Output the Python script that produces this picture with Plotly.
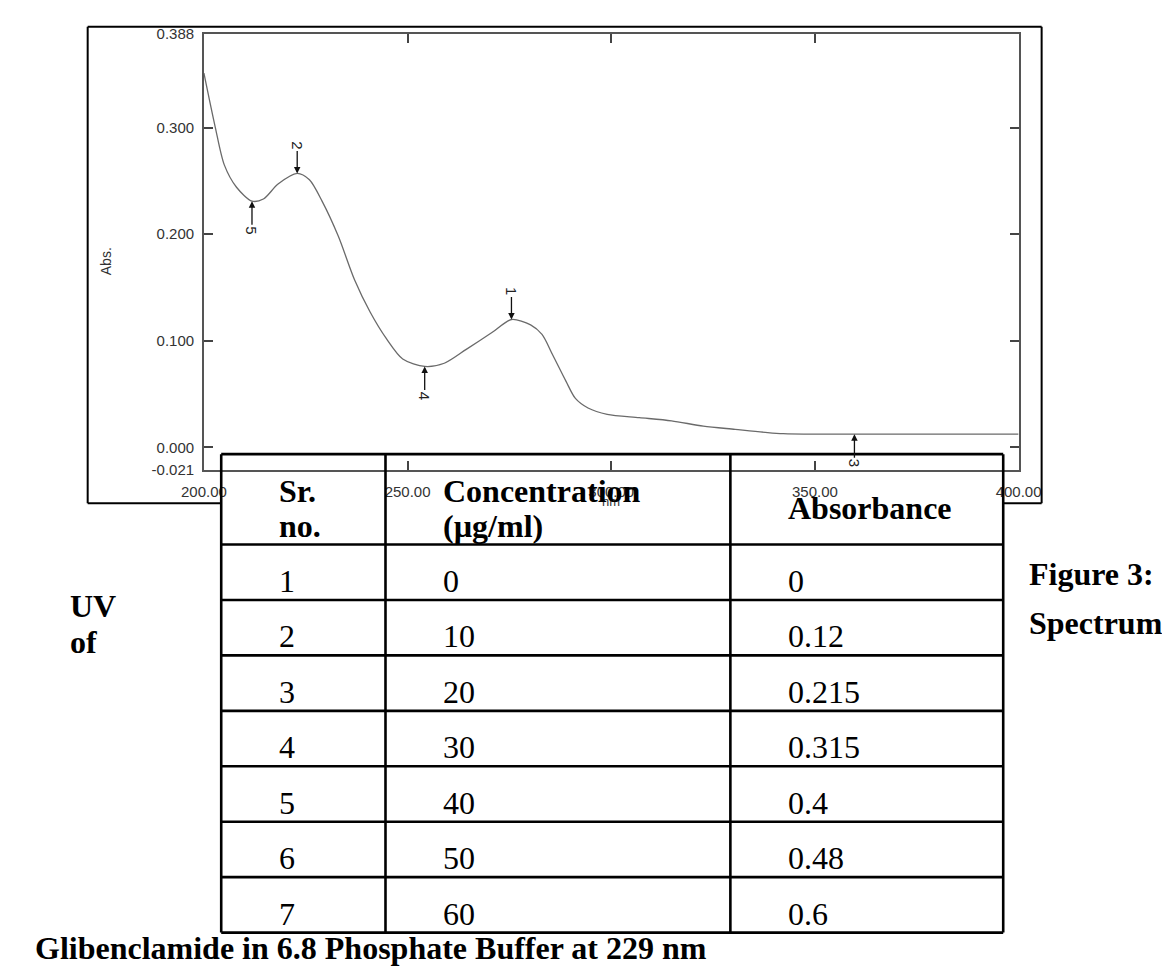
import plotly.graph_objects as go

W, H = 1170, 966

# ---------------- spectrum data ----------------
wavelength = [200.0, 202.8, 205.0, 208.0, 211.8, 214.6, 218.2, 222.9, 225.9, 229.0,
              233.0, 237.0, 240.8, 244.8, 248.8, 254.2, 259.0, 264.4, 270.8, 275.5,
              280.2, 283.0, 285.6, 288.9, 291.2, 294.3, 299.0, 306.9, 314.8, 322.6,
              330.4, 338.4, 342.2, 350.0, 360.0, 370.0, 380.0, 390.0, 400.0]
absorb = [0.351, 0.300, 0.265, 0.244, 0.231, 0.233, 0.247, 0.257, 0.251, 0.231,
          0.198, 0.157, 0.127, 0.102, 0.083, 0.076, 0.079, 0.092, 0.108, 0.120,
          0.115, 0.106, 0.087, 0.062, 0.046, 0.037, 0.031, 0.028, 0.025, 0.020,
          0.017, 0.014, 0.013, 0.0125, 0.0125, 0.0125, 0.0125, 0.0125, 0.0125]

# peak / valley markers: label, wavelength, absorbance, label above?
peak_labels = ["1", "2", "3", "4", "5"]
peak_wl = [275.5, 222.9, 359.7, 254.2, 211.8]
peak_abs = [0.120, 0.257, 0.0125, 0.076, 0.231]
peak_above = [True, True, False, False, False]

y_tickvals = [-0.021, 0.0, 0.1, 0.2, 0.3, 0.388]
y_ticktext = ["-0.021", "0.000", "0.100", "0.200", "0.300", "0.388"]
x_tickvals = [200, 250, 300, 350, 400]
x_ticktext = ["200.00", "250.00", "300.00", "350.00", "400.00"]

# ---------------- table data ----------------
table_header = ["Sr.\nno.", "Concentration\n(µg/ml)", "Absorbance"]
sr_no = ["1", "2", "3", "4", "5", "6", "7"]
concentration = ["0", "10", "20", "30", "40", "50", "60"]
absorbance = ["0", "0.12", "0.215", "0.315", "0.4", "0.48", "0.6"]

caption_left = ["UV", "of"]
caption_right = ["Figure 3:", "Spectrum"]
caption_bottom = "Glibenclamide in 6.8 Phosphate Buffer at 229 nm"


def px(x):
    return x / W


def py(y):
    return 1 - y / H


SANS = "Arial, Liberation Sans, sans-serif"
SERIF = "Times New Roman, Liberation Serif, serif"

fig = go.Figure()
fig.add_trace(go.Scatter(x=wavelength, y=absorb, mode="lines",
                         line=dict(color="#6a6a6a", width=1.3, shape="spline", smoothing=0.8),
                         hoverinfo="skip", showlegend=False))

# plot area
PL, PR, PT, PB = 180, 1028, 17, 461
axis_common = dict(showgrid=False, zeroline=False, showline=True, linecolor="#555555",
                   linewidth=1.6, mirror="ticks", ticks="inside", ticklen=9,
                   tickwidth=1.5, tickcolor="#444444",
                   tickfont=dict(family=SANS, size=15, color="#333333"))
fig.update_layout(
    width=W, height=H, margin=dict(l=0, r=0, t=0, b=0),
    paper_bgcolor="white", plot_bgcolor="white", showlegend=False,
    xaxis=dict(range=[200, 400], domain=[px(PL), px(PR)], tickvals=x_tickvals,
               ticktext=x_ticktext, ticklabelstandoff=7, **axis_common),
    yaxis=dict(range=[-0.021, 0.388], domain=[py(PB), py(PT)], tickvals=y_tickvals,
               ticktext=y_ticktext, ticklabelstandoff=5, **axis_common),
)

shapes = []
annotations = []

# outer frame of the spectrum picture
FL, FR, FT, FB = 59, 1052, 10, 495
frame_line = dict(color="black", width=2)
for x0, y0, x1, y1 in [(FL, FT, FR, FT), (FL, FT, FL, FB), (FR, FT, FR, FB),
                       (FL, FB, 198, FB), (1012, FB, FR, FB)]:
    shapes.append(dict(type="line", xref="paper", yref="paper", x0=px(x0), y0=py(y0),
                       x1=px(x1), y1=py(y1), line=frame_line, layer="above"))

# axis titles
annotations.append(dict(text="Abs.", xref="paper", yref="paper", x=px(68), y=py(232),
                        showarrow=False, textangle=-90,
                        font=dict(family=SANS, size=14, color="#333333")))
annotations.append(dict(text="nm", xref="paper", yref="paper", x=px(604), y=py(493),
                        showarrow=False, font=dict(family=SANS, size=13, color="#333333")))

# peak markers
for lab, wx, wy, above in zip(peak_labels, peak_wl, peak_abs, peak_above):
    annotations.append(dict(text=lab, x=wx, y=wy, xref="x", yref="y", showarrow=True,
                            ax=0, ay=-28 if above else 29, textangle=90,
                            arrowhead=2, arrowsize=1, arrowwidth=1.3, arrowcolor="#111111",
                            font=dict(family=SANS, size=15, color="#222222")))

# ---------------- table ----------------
col_x = [198, 369, 728, 1012]
row_top = 445
head_bottom = 537
table_bottom = 932
n_rows = len(sr_no)
row_h = (table_bottom - head_bottom) / n_rows
row_y = [head_bottom + i * row_h for i in range(n_rows + 1)]
tline = dict(color="black", width=2.6)
for cx in col_x:
    shapes.append(dict(type="line", xref="paper", yref="paper", x0=px(cx), x1=px(cx),
                       y0=py(row_top), y1=py(table_bottom), line=tline, layer="above"))
for ry in [row_top] + row_y:
    shapes.append(dict(type="line", xref="paper", yref="paper", x0=px(col_x[0]),
                       x1=px(col_x[-1]), y0=py(ry), y1=py(ry), line=tline, layer="above"))

PAD = 58
TFONT = 32
head_font = dict(family=SERIF, size=TFONT, color="black")


def txt(s, x, y, bold=False, anchor="left"):
    annotations.append(dict(text=f"<b>{s}</b>" if bold else s, xref="paper", yref="paper",
                            x=px(x), y=py(y), xanchor=anchor, yanchor="middle",
                            showarrow=False, font=head_font))


# header cells
for ci, h in enumerate(table_header):
    lines = h.split("\n")
    if len(lines) == 2:
        txt(lines[0], col_x[ci] + PAD, 482, bold=True)
        txt(lines[1], col_x[ci] + PAD, 518, bold=True)
    else:
        txt(lines[0], col_x[ci] + PAD, 500, bold=True)

# body cells
for ri in range(n_rows):
    cy = row_y[ri] + 37
    for ci, col in enumerate([sr_no, concentration, absorbance]):
        txt(col[ri], col_x[ci] + PAD, cy)

# captions around the table
txt(caption_left[0], 38, 600, bold=True)
txt(caption_left[1], 38, 636, bold=True)
txt(caption_right[0], 1037, 567, bold=True)
txt(caption_right[1], 1037, 617, bold=True)
txt(caption_bottom, 2, 948, bold=True)

fig.update_layout(shapes=shapes, annotations=annotations)
fig.write_html("out.html")
